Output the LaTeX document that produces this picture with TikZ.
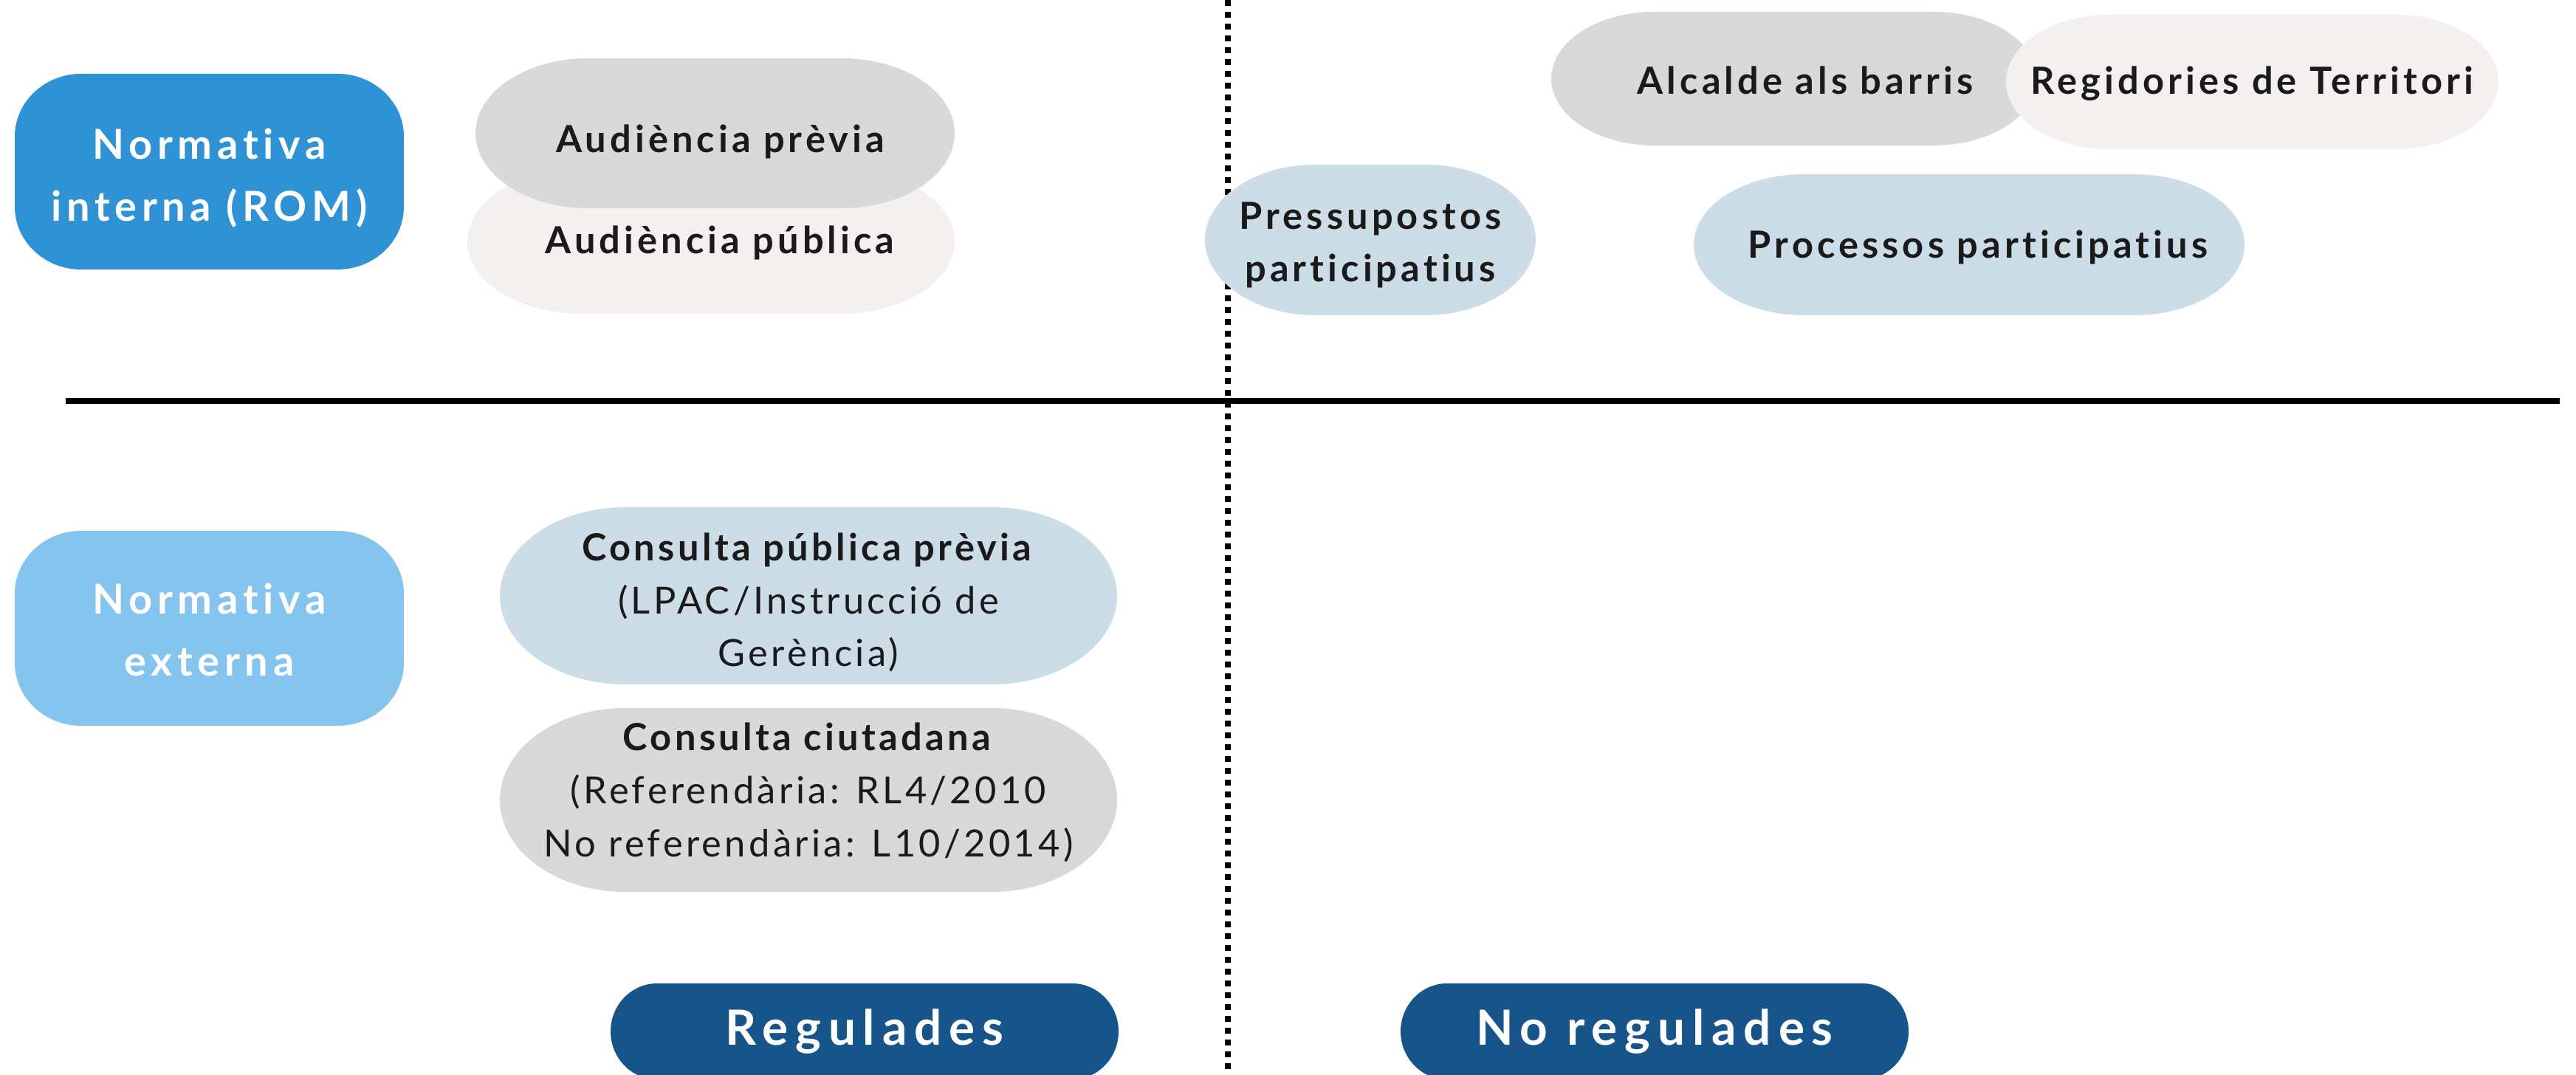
\documentclass[tikz,border=0pt]{standalone}
\usepackage{fontspec}
\setmainfont{Lato}
\newfontfamily\pillfont{Lato}[LetterSpace=10, Ligatures=NoCommon]
\newfontfamily\notefont{Lato}[LetterSpace=8.5, Ligatures=NoCommon]
\newfontfamily\titlefont{Lato}[LetterSpace=12, Ligatures=NoCommon]
\newfontfamily\tagfont{Lato}[LetterSpace=15, Ligatures=NoCommon]
\usetikzlibrary{calc, positioning}
\definecolor{romblue}{HTML}{2E92D4}
\definecolor{extblue}{HTML}{85C4EF}
\definecolor{pillgray}{HTML}{D9D9D9}
\definecolor{pillwhite}{HTML}{F3F0EF}
\definecolor{pillblue}{HTML}{CCDDE8}
\definecolor{tagblue}{HTML}{16548A}
\definecolor{ink}{HTML}{1A1A1A}
\pgfdeclarelayer{rules}
\pgfdeclarelayer{fills}
\pgfsetlayers{rules,fills,main}
\tikzset{%
  box/.style={inner sep=0pt, outer sep=0pt, align=center},
  pill/.style={box, text=ink, font=\pillfont\bfseries\fontsize{14.4}{20.4}\selectfont},
  note/.style={box, text=ink, font=\notefont\fontsize{14.4}{20.4}\selectfont},
  title/.style={box, text=white, font=\titlefont\bfseries\fontsize{15.9}{23.9}\selectfont},
  tag/.style={box, text=white, font=\tagfont\bfseries\fontsize{18.7}{22}\selectfont},
  sep/.style={line width=0.08cm, black},
  dots/.style={line width=0.08cm, black, dash pattern=on 0.08cm off 0.08cm}
}
% fill behind a node: [offset of the fill], name, colour, x radius, y radius
\newcommand\pillfill[5][(0,0)]{%
  \begin{pgfonlayer}{fills}
    \fill[#3] let \p1=($(#2.south west)+#1$), \p2=($(#2.north east)+#1$) in
      (\x1+#4,\y1) -- (\x2-#4,\y1)
      arc[start angle=-90, end angle=0, x radius=#4, y radius=#5] -- (\x2,\y2-#5)
      arc[start angle=0, end angle=90, x radius=#4, y radius=#5] -- (\x1+#4,\y2)
      arc[start angle=90, end angle=180, x radius=#4, y radius=#5] -- (\x1,\y1+#5)
      arc[start angle=180, end angle=270, x radius=#4, y radius=#5] -- cycle;
  \end{pgfonlayer}}

\begin{document}
\begin{tikzpicture}
  \useasboundingbox (0,0) rectangle (34.89,14.56);

  % axes
  \coordinate (top) at (16.63,14.56);
  \coordinate (bottom) at (16.63,0);
  \coordinate (left) at (0.89,9.13);
  \coordinate (right) at (34.67,9.13);
  \begin{pgfonlayer}{rules}
    \draw[dots] (top) -- (bottom);
    \draw[sep] (left) -- (right);
  \end{pgfonlayer}

  % row labels
  \node[title, minimum width=5.27cm, minimum height=2.65cm, yshift=-0.09cm] (rom) at (2.835,12.235) {Normativa\\interna (ROM)};
  \pillfill[(0,0.09)]{rom}{romblue}{0.9cm}{0.85cm}
  \node[title, minimum width=5.27cm, minimum height=2.64cm, yshift=-0.02cm] (ext) at (2.835,6.05) {Normativa\\externa};
  \pillfill[(0,0.02)]{ext}{extblue}{0.9cm}{0.85cm}

  % regulades, interna
  \node[pill, minimum width=6.6cm, minimum height=1.96cm, xshift=0.12cm, yshift=-0.02cm] (aupub) at (9.63,11.29) {Audiència pública};
  \pillfill[(-0.12,0.02)]{aupub}{pillwhite}{1.55cm}{0.98cm}
  \node[pill, minimum width=6.49cm, minimum height=2.03cm, xshift=0.07cm, yshift=-0.11cm] (auprev) at (9.685,12.755) {Audiència prèvia};
  \pillfill[(-0.07,0.11)]{auprev}{pillgray}{1.53cm}{1.015cm}

  % no regulades
  \node[pill, minimum width=4.48cm, minimum height=2.04cm, yshift=-0.07cm] (press) at (18.56,11.31) {Pressupostos\\participatius};
  \pillfill[(0,0.07)]{press}{pillblue}{1.5cm}{1.02cm}
  \node[pill, minimum width=6.58cm, minimum height=1.81cm, xshift=0.15cm, yshift=-0.02cm] (alc) at (24.3,13.495) {Alcalde als barris};
  \pillfill[(-0.15,0.02)]{alc}{pillgray}{1.4cm}{0.905cm}
  \node[pill, minimum width=6.67cm, minimum height=1.82cm, yshift=-0.02cm] (reg) at (30.505,13.45) {Regidories de Territori};
  \pillfill[(0,0.02)]{reg}{pillwhite}{1.4cm}{0.91cm}
  \node[pill, minimum width=7.46cm, minimum height=1.91cm, xshift=0.12cm, yshift=-0.04cm] (proc) at (26.67,11.245) {Processos participatius};
  \pillfill[(-0.12,0.04)]{proc}{pillblue}{1.5cm}{0.955cm}

  % regulades, externa
  \node[note, minimum width=8.36cm, minimum height=2.4cm, yshift=-0.09cm] (cpp) at (10.95,6.49) {\textbf{Consulta pública prèvia}\\(LPAC/Instrucció de\\Gerència)};
  \pillfill[(0,0.09)]{cpp}{pillblue}{1.7cm}{1.2cm}
  \node[note, minimum width=8.36cm, minimum height=2.49cm, yshift=0.1cm] (cc) at (10.95,3.725) {\textbf{Consulta ciutadana}\\(Referendària: RL4/2010\\No referendària: L10/2014)};
  \pillfill[(0,-0.1)]{cc}{pillgray}{1.7cm}{1.245cm}

  % column tags
  \node[tag, minimum width=6.88cm, minimum height=1.3cm] (regul) at (11.71,0.59) {Regulades};
  \pillfill{regul}{tagblue}{0.63cm}{0.65cm}
  \node[tag, minimum width=6.88cm, minimum height=1.3cm] (noreg) at (22.41,0.59) {No regulades};
  \pillfill{noreg}{tagblue}{0.63cm}{0.65cm}
\end{tikzpicture}
\end{document}
